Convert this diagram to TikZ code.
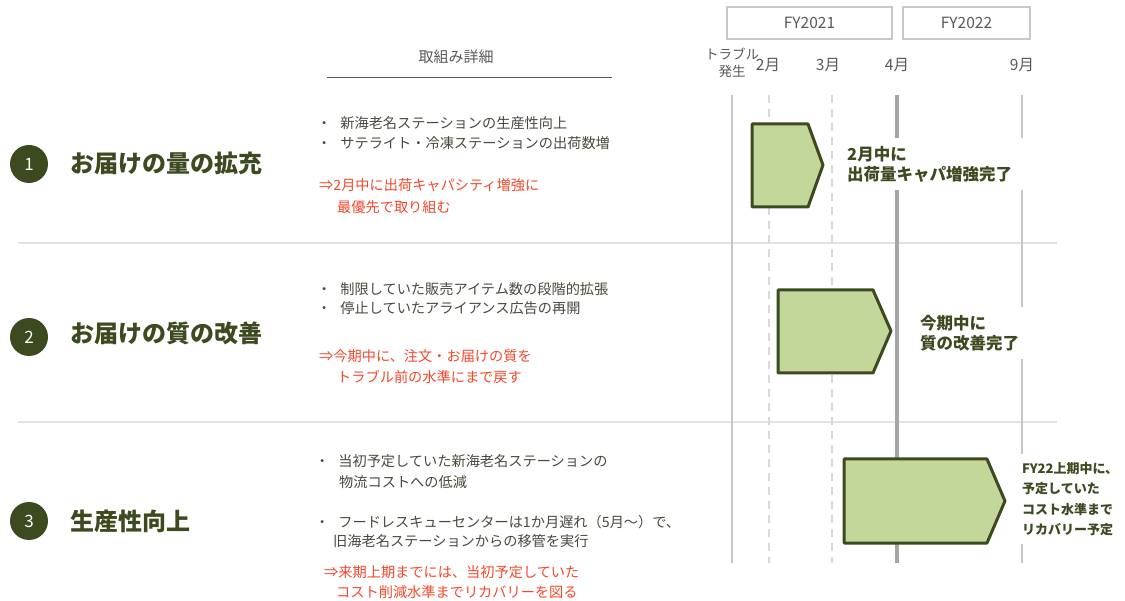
\documentclass[tikz,border=0pt]{standalone}
\usepackage{fontspec}
\setmainfont{Noto Sans CJK JP}
\definecolor{olive}{HTML}{3B4A1F}
\definecolor{bodytext}{HTML}{454A3C}
\definecolor{redtext}{HTML}{F5472A}
\definecolor{arrowfill}{HTML}{C4D79B}
\definecolor{boxgray}{HTML}{C8C8C8}
\definecolor{fygray}{HTML}{595959}
\definecolor{linegray}{HTML}{C8C8C8}
\definecolor{dashgray}{HTML}{D9D9D9}
\definecolor{darkline}{HTML}{A6A6A6}
\definecolor{sepgray}{HTML}{E3E3E3}
\begin{document}
\begin{tikzpicture}[x=1pt,y=-1pt,
  bodytxt/.style={anchor=west,inner sep=0pt,text=bodytext,font=\fontsize{14.2}{16}\selectfont},
  redtxt/.style={bodytxt,text=redtext},
  titletxt/.style={anchor=west,inner sep=0pt,text=olive,font=\fontsize{24}{27}\selectfont\bfseries},
  numcircle/.style={circle,fill=olive,minimum size=38pt,inner sep=0pt,text=white,font=\fontsize{17}{19}\selectfont},
  lbltxt/.style={anchor=west,fill=white,text=olive,align=left,inner ysep=8pt,font=\fontsize{16.5}{20}\selectfont\bfseries},
  fybox/.style={draw=boxgray,line width=1.2pt,inner sep=0pt,text=fygray,font=\fontsize{15.5}{17}\selectfont},
  monthtxt/.style={inner sep=0pt,text=fygray,font=\fontsize{15.5}{17}\selectfont},
  pentagon/.style={fill=arrowfill,draw=olive,line width=3pt,line join=round},
  sepline/.style={draw=sepgray,line width=2pt},
  solidv/.style={draw=linegray,line width=1.5pt},
  dashv/.style={draw=dashgray,line width=1.5pt,dash pattern=on 8pt off 6pt},
  thickv/.style={draw=darkline,line width=3.5pt}
]
\useasboundingbox (0,0) rectangle (1125,601);

% header boxes
\node[fybox,minimum width=165pt,minimum height=32pt] (fy21) at (809.5,23) {FY2021};
\node[fybox,minimum width=127pt,minimum height=32pt] (fy22) at (966.5,23) {FY2022};

% month labels
\node[monthtxt,font=\fontsize{13.5}{17}\selectfont,align=center] (trouble) at (732,63) {トラブル\\発生};
\node[monthtxt] (m2) at (768,65) {2月};
\node[monthtxt] (m3) at (828,65) {3月};
\node[monthtxt] (m4) at (897,65) {4月};
\node[monthtxt] (m9) at (1022,65) {9月};

% heading
\node[monthtxt,font=\fontsize{15}{17}\selectfont] (head) at (456,57) {取組み詳細};
\coordinate (ulA) at (327,78);
\coordinate (ulB) at (612,78);
\draw[draw=fygray,line width=1pt] (ulA) -- (ulB);

% separators
\coordinate (s1a) at (18,243); \coordinate (s1b) at (1057,243);
\coordinate (s2a) at (18,422); \coordinate (s2b) at (1057,422);
\draw[sepline] (s1a) -- (s1b);
\draw[sepline] (s2a) -- (s2b);

% vertical timeline lines
\coordinate (vt0) at (732,95);  \coordinate (vb0) at (732,563);
\coordinate (vt2) at (769,95);  \coordinate (vb2) at (769,563);
\coordinate (vt3) at (832,95);  \coordinate (vb3) at (832,563);
\coordinate (vt4) at (897,95);  \coordinate (vb4) at (897,563);
\coordinate (vt9) at (1022,95); \coordinate (vb9) at (1022,563);
\draw[solidv] (vt0) -- (vb0);
\draw[dashv] (vt2) -- (vb2);
\draw[dashv] (vt3) -- (vb3);
\draw[thickv] (vt4) -- (vb4);
\draw[solidv] (vt9) -- (vb9);

% pentagon arrows
\draw[pentagon] (752,124) -- (808,124) -- (823,165) -- (808,207) -- (752,207) -- cycle;
\draw[pentagon] (778,290) -- (873,290) -- (891,331) -- (873,373) -- (778,373) -- cycle;
\draw[pentagon] (844,459) -- (987,459) -- (1005,501) -- (987,543) -- (844,543) -- cycle;

% result labels (white background interrupts lines)
\node[lbltxt,inner xsep=9pt,text width=170pt] (res1) at (838,164) {2月中に\\出荷量キャパ増強完了};
\node[lbltxt,inner xsep=9pt,text width=110pt] (res2) at (911,333) {今期中に\\質の改善完了};
\node[lbltxt,inner xsep=3pt,text width=103pt,font=\fontsize{13}{20.5}\selectfont\bfseries] (res3) at (1019,499) {FY22上期中に、\\予定していた\\コスト水準まで\\リカバリー予定};

% row 1
\node[numcircle] (c1) at (29,164) {1};
\node[titletxt] (t1) at (70,163) {お届けの量の拡充};
\node[bodytxt] (b11) at (317,123) {・\hspace{9pt}新海老名ステーションの生産性向上};
\node[bodytxt] (b12) at (317,143) {・\hspace{9pt}サテライト・冷凍ステーションの出荷数増};
\node[redtxt] (r11) at (319,185) {⇒2月中に出荷キャパシティ増強に};
\node[redtxt] (r12) at (337,207) {最優先で取り組む};

% row 2
\node[numcircle] (c2) at (29,337) {2};
\node[titletxt] (t2) at (70,333) {お届けの質の改善};
\node[bodytxt] (b21) at (317,289) {・\hspace{9pt}制限していた販売アイテム数の段階的拡張};
\node[bodytxt] (b22) at (317,308) {・\hspace{9pt}停止していたアライアンス広告の再開};
\node[redtxt] (r21) at (319,356) {⇒今期中に、注文・お届けの質を};
\node[redtxt] (r22) at (337,377) {トラブル前の水準にまで戻す};

% row 3
\node[numcircle] (c3) at (29,521) {3};
\node[titletxt] (t3) at (70,521) {生産性向上};
\node[bodytxt] (b31) at (315,461) {・\hspace{9pt}当初予定していた新海老名ステーションの};
\node[bodytxt] (b32) at (339,482) {物流コストへの低減};
\node[bodytxt] (b33) at (315,522) {・\hspace{9pt}フードレスキューセンターは1か月遅れ（5月～）で、};
\node[bodytxt] (b34) at (333,541) {旧海老名ステーションからの移管を実行};
\node[redtxt] (r31) at (324,572) {⇒来期上期までには、当初予定していた};
\node[redtxt] (r32) at (336,592) {コスト削減水準までリカバリーを図る};
\end{tikzpicture}
\end{document}
